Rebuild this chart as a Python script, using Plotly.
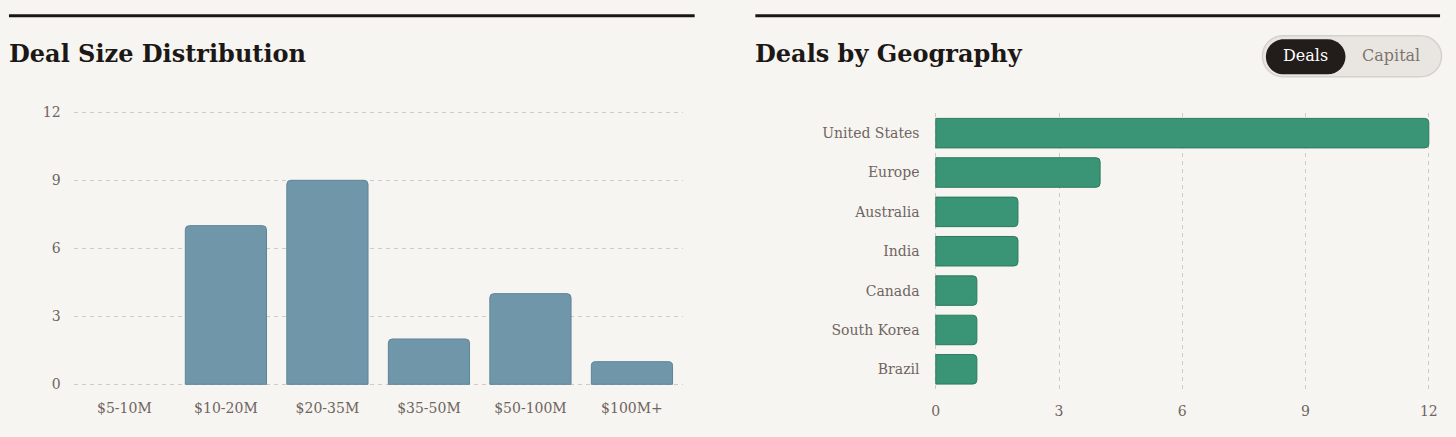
import plotly.graph_objects as go

W, H = 1456, 437

# datos
rangos = ["$5-10M", "$10-20M", "$20-35M", "$35-50M", "$50-100M", "$100M+"]
deals_por_rango = [0, 7, 9, 2, 4, 1]

regiones = ["United States", "Europe", "Australia", "India", "Canada", "South Korea", "Brazil"]
deals_por_region = [12, 4, 2, 2, 1, 1, 1]

ticks_valores = [0, 3, 6, 9, 12]

FONDO = "#f7f5f1"
TEXTO = "#1c1816"
GRIS = "#6f6562"
GRID = "#cfcac5"
SERIF = "Georgia, 'DejaVu Serif', serif"


def px(x):
    return x / W


def py(y):
    return 1 - y / H


def pastilla(x0, y0, x1, y1, r):
    """Path de un rectangulo redondeado en coordenadas paper"""
    k = 0.5523 * r
    pts = [
        ("M", [(x0 + r, y0)]),
        ("L", [(x1 - r, y0)]),
        ("C", [(x1 - r + k, y0), (x1, y0 + r - k), (x1, y0 + r)]),
        ("L", [(x1, y1 - r)]),
        ("C", [(x1, y1 - r + k), (x1 - r + k, y1), (x1 - r, y1)]),
        ("L", [(x0 + r, y1)]),
        ("C", [(x0 + r - k, y1), (x0, y1 - r + k), (x0, y1 - r)]),
        ("L", [(x0, y0 + r)]),
        ("C", [(x0, y0 + r - k), (x0 + r - k, y0), (x0 + r, y0)]),
    ]
    partes = []
    for cmd, coords in pts:
        partes.append(cmd + " " + " ".join(f"{px(a):.5f},{py(b):.5f}" for a, b in coords))
    return " ".join(partes) + " Z"


fig = go.Figure()

# Distribución por tamaño
fig.add_trace(go.Bar(
    x=rangos,
    y=deals_por_rango,
    xaxis="x", yaxis="y",
    marker=dict(color="#7096aa",
                line=dict(color="#5f8599", width=[1 if v else 0 for v in deals_por_rango]),
                cornerradius=4),
    hoverinfo="skip",
))

# Deals por geografía
fig.add_trace(go.Bar(
    x=deals_por_region,
    y=regiones,
    orientation="h",
    xaxis="x2", yaxis="y2",
    width=0.75,
    marker=dict(color="#3a9476", line=dict(color="#2d7a5f", width=1), cornerradius=4),
    hoverinfo="skip",
))

eje_comun = dict(
    tickfont=dict(family=SERIF, size=14, color=GRIS),
    zeroline=False,
    showline=False,
    ticks="",
    fixedrange=True,
)

fig.update_layout(
    autosize=True,
    margin=dict(l=0, r=0, t=0, b=0),
    paper_bgcolor=FONDO,
    plot_bgcolor=FONDO,
    showlegend=False,
    bargap=0.2,
    xaxis=dict(
        domain=[px(73), px(685)],
        showgrid=False,
        ticklabelstandoff=11,
        **eje_comun,
    ),
    yaxis=dict(
        domain=[py(391), py(107)],
        range=[-0.12, 12.12],
        tickvals=ticks_valores,
        showgrid=True, gridcolor=GRID, griddash="4px,4px", gridwidth=1,
        ticklabelstandoff=12,
        **eje_comun,
    ),
    xaxis2=dict(
        domain=[px(936), px(1438)],
        anchor="y2",
        range=[-0.08, 12.08],
        tickvals=ticks_valores,
        showgrid=True, gridcolor=GRID, griddash="4px,4px", gridwidth=1,
        ticklabelstandoff=12,
        **eje_comun,
    ),
    yaxis2=dict(
        domain=[py(393), py(111)],
        anchor="x2",
        categoryorder="array",
        categoryarray=regiones[::-1],
        showgrid=False,
        ticklabelstandoff=12,
        **eje_comun,
    ),
)

# reglas superiores
for x0, x1 in [(8, 697), (758, 1446)]:
    fig.add_shape(type="line", xref="paper", yref="paper",
                  x0=px(x0), x1=px(x1), y0=py(11), y1=py(11),
                  line=dict(color="#1a1414", width=3))

# títulos
for x, texto in [(6, "Deal Size Distribution"), (756, "Deals by Geography")]:
    fig.add_annotation(xref="paper", yref="paper", x=px(x), y=py(50),
                       xanchor="left", yanchor="middle", showarrow=False,
                       text=f"<b>{texto}</b>",
                       font=dict(family=SERIF, size=24, color=TEXTO))

# selector Deals / Capital
fig.add_shape(type="path", xref="paper", yref="paper",
              path=pastilla(1267.5, 31.5, 1447.5, 73.5, 21),
              fillcolor="#e9e6e2", line=dict(color="#d6d1cc", width=1.5))
fig.add_shape(type="path", xref="paper", yref="paper",
              path=pastilla(1271, 35, 1351, 71, 18),
              fillcolor="#221c1a", line=dict(width=0))
fig.add_annotation(xref="paper", yref="paper", x=px(1311), y=py(52),
                   xanchor="center", yanchor="middle", showarrow=False,
                   text="Deals", font=dict(family=SERIF, size=16, color="#ffffff"))
fig.add_annotation(xref="paper", yref="paper", x=px(1397), y=py(52),
                   xanchor="center", yanchor="middle", showarrow=False,
                   text="Capital", font=dict(family=SERIF, size=16, color="#7d7470"))

# la figura ocupa toda la ventana, sin margen del body
fig.write_html("out.html",
               config={"displayModeBar": False},
               default_width="100vw", default_height="100vh",
               post_script="document.body.style.margin='0';document.body.style.overflow='hidden';")
